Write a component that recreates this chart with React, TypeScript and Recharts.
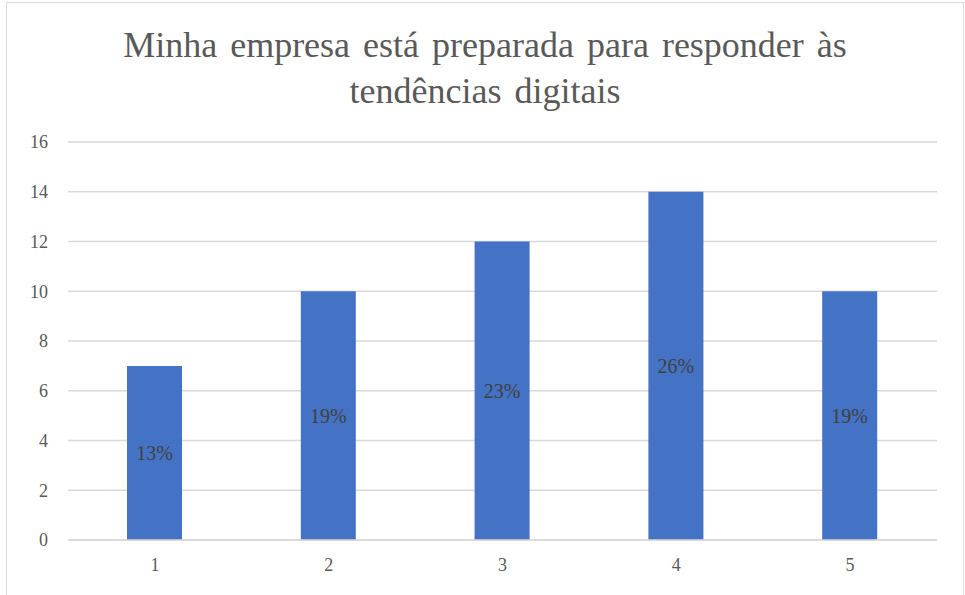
import React from "react";
import { BarChart, Bar, XAxis, YAxis, CartesianGrid, LabelList } from "recharts";

const categories = ["1", "2", "3", "4", "5"];
const counts = [7, 10, 12, 14, 10];
const percents = ["13%", "19%", "23%", "26%", "19%"];
const yTicks = [0, 2, 4, 6, 8, 10, 12, 14, 16];
const titleLines = ["Minha empresa está preparada para responder às", "tendências digitais"];

const data = categories.map((c, i) => ({ cat: c, value: counts[i], pct: percents[i] }));

const FONT = "Liberation Serif, Times New Roman, serif";

export default function App() {
  return (
    <div style={{ position: "absolute", left: 0, top: 0, width: 965, height: 595, background: "#fff", overflow: "hidden" }}>
      <div style={{ position: "absolute", left: 6, top: 2, width: 958, height: 620, border: "1px solid #d9d9d9", boxSizing: "border-box" }} />
      <div style={{ position: "absolute", left: 0, top: 0 }}>
        <BarChart width={965} height={595} data={data} margin={{ top: 142, right: 28, bottom: 25, left: 8 }}>
          <text x={485} y={57} textAnchor="middle" style={{ fontFamily: FONT, fontSize: 36, fill: "#595959", wordSpacing: 4 }}>{titleLines[0]}</text>
          <text x={485} y={103} textAnchor="middle" style={{ fontFamily: FONT, fontSize: 36, fill: "#595959", wordSpacing: 4 }}>{titleLines[1]}</text>
          <CartesianGrid vertical={false} stroke="#d9d9d9" strokeWidth={1.5} />
          <XAxis dataKey="cat" height={30} axisLine={{ stroke: "#d9d9d9", strokeWidth: 1.5 }} tickLine={false} tickSize={0} tickMargin={18}
            tick={{ fill: "#595959", fontSize: 18, fontFamily: FONT }} />
          <YAxis width={60} domain={[0, 16]} ticks={yTicks} axisLine={false} tickLine={false} tickSize={0} tickMargin={20}
            tick={{ fill: "#595959", fontSize: 18, fontFamily: FONT }} />
          <Bar dataKey="value" fill="#4472C4" barSize={55} isAnimationActive={false}>
            <LabelList dataKey="pct" position="center" style={{ fill: "#404040", fontSize: 20, fontFamily: FONT }} />
          </Bar>
        </BarChart>
      </div>
    </div>
  );
}
